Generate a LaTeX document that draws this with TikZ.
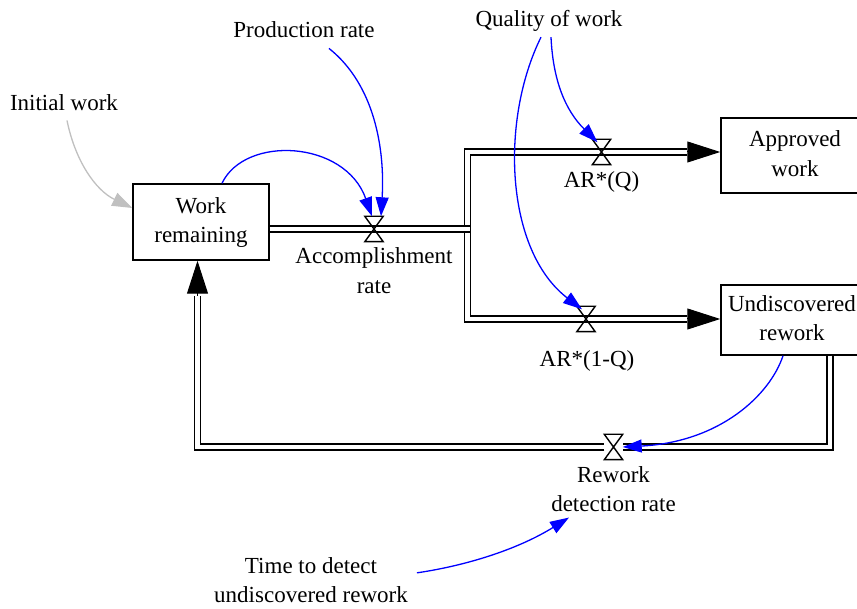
\documentclass[tikz,border=0pt]{standalone}
\usepackage{fontspec}
\setmainfont{Liberation Serif}
\usetikzlibrary{arrows.meta,calc}

\tikzset{
  txt/.style={font=\fontsize{23}{29.5}\selectfont, align=center},
  lbl/.style={txt, inner sep=3pt},
  stock/.style={txt, draw, line width=1.5pt, inner sep=0pt},
  valve/.style={inner sep=0pt, minimum width=18pt, minimum height=25pt},
  valveshape/.style={line width=1.4pt, line join=miter},
  pipe/.style={line width=1.3pt, double, double distance=4.7pt},
  flowhead/.style={line width=1pt, -{Triangle[length=33pt,width=21pt]}},
  info/.style={blue, line width=1.3pt, -{Triangle[length=19pt,width=13pt]}},
  initlink/.style={color={rgb,255:red,192;green,192;blue,192}, line width=1.3pt,
                   -{Triangle[length=20pt,width=14pt]}}
}

\begin{document}
\begin{tikzpicture}[x=1pt,y=-1pt]
\useasboundingbox (0,0) rectangle (857,609);
\clip (0,0) rectangle (857,609);

% stocks
\node[stock, minimum width=136pt, minimum height=76pt] (wr) at (201,222) {\strut Work\\\strut remaining};
\node[stock, minimum width=148pt, minimum height=75pt] (aw) at (795,155.5) {\strut Approved\\\strut work};
\node[stock, minimum width=142pt, minimum height=70pt] (uw) at (792,320) {\strut Undiscovered\\\strut rework};

% valves
\node[valve] (v1) at (374,229) {};
\node[valve] (v2) at (601.5,152) {};
\node[valve] (v3) at (586,319) {};
\node[valve] (v4) at (613.5,447) {};

% variables and rate labels
\node[lbl, anchor=base] (iw) at (64,111) {Initial work};
\node[lbl, anchor=base] (pr) at (304,38) {Production rate};
\node[lbl, anchor=base] (qw) at (549,27) {Quality of work};
\node[lbl, anchor=base] (lq) at (601.5,188) {AR*(Q)};
\node[lbl, anchor=base] (lnq) at (587,367) {AR*(1-Q)};
\node[lbl] (la) at (374,272.85) {\strut Accomplishment\\\strut rate};
\node[lbl] (rl) at (613.5,490.85) {\strut Rework\\\strut detection rate};
\node[lbl] (td) at (311,581.85) {\strut Time to detect\\\strut undiscovered rework};

% pipes
\coordinate (j) at (467.5,229);
\coordinate (jend) at (470,229);
\draw[pipe, shorten <=33pt, shorten >=33pt]
  (aw.west |- v2) -- (j |- v2) -- (j |- v3) -- (uw.west |- v3);
\draw[pipe] (wr.east |- v1) -- (jend);
\draw[pipe, shorten >=35pt]
  ($(uw.south)+(38,0)$) |- (v4) -| ($(wr.south)+(-3.5,0)$);

% flow arrowheads
\draw[flowhead] ($(aw.west |- v2)+(-33,0)$) -- (aw.west |- v2);
\draw[flowhead] ($(uw.west |- v3)+(-33,0)$) -- (uw.west |- v3);
\draw[flowhead] ($(wr.south)+(-3.5,35)$) -- ($(wr.south)+(-3.5,0)$);

% valve symbols
\foreach \v in {v1,v2,v3,v4}
  \draw[valveshape] (\v.north west) -- (\v.north east) -- (\v.south west) -- (\v.south east) -- cycle;

% information links
\draw[info] ($(wr.north)+(21,0)$) .. controls (245,135) and (345,140) .. ($(v1.north)+(-2,0)$);
\draw[info] ($(pr.south)+(25,7)$) .. controls (375,85) and (385,150) .. ($(v1.north)+(7,0)$);
\draw[info] ($(qw.south)+(-8,2)$) .. controls (500,120) and (505,250) .. ($(v3.north)+(-4,3)$);
\draw[info] ($(qw.south)+(2,2)$) .. controls (553,80) and (565,110) .. ($(v2.north)+(-4,3)$);
\draw[info] ($(uw.south)+(-9,0)$) .. controls (770,395) and (720,442) .. (v4.east);
\draw[info] ($(td.east)+(6,-9)$) .. controls (470,565) and (520,548) .. ($(rl.south)+(-44.5,-6)$);
\draw[initlink] ($(iw.south)+(3,6)$) .. controls (75,160) and (95,190) .. ($(wr.west)+(0,-14)$);
\end{tikzpicture}
\end{document}
